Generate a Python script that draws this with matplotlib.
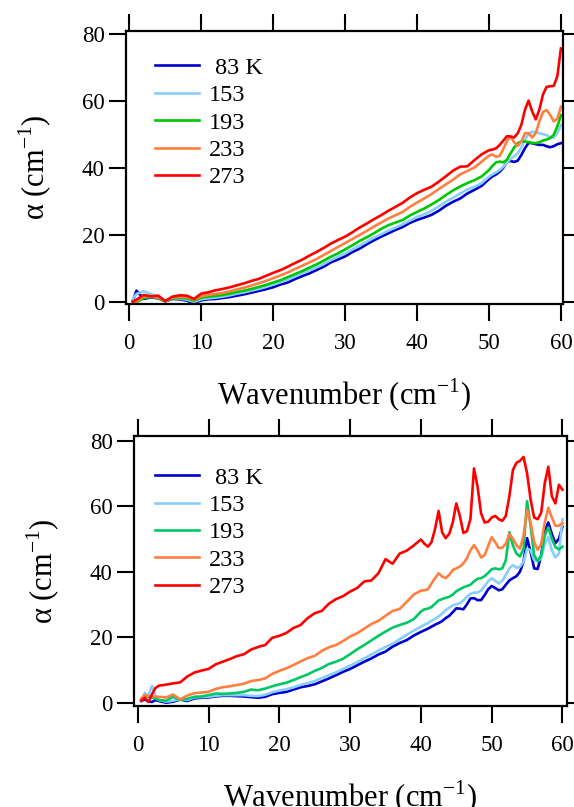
import matplotlib
matplotlib.use('Agg')
import matplotlib.pyplot as plt

plt.rcParams['font.family'] = ['Liberation Serif', 'DejaVu Serif']
plt.rcParams['mathtext.fontset'] = 'custom'
plt.rcParams['mathtext.rm'] = 'Liberation Serif'

labels = [' 83 K', '153', '193', '233', '273']

# top panel
x_top = [0.5, 1, 2, 3, 4, 5, 6, 7, 8, 9, 10, 11, 12, 13, 14, 15, 16, 17, 18, 19, 20,
         21, 22, 23, 24, 25, 26, 27, 28, 29, 30, 31, 32, 33, 34, 35, 36, 37, 38, 39, 40,
         41, 42, 43, 44, 45, 46, 47, 48, 49, 50, 50.5, 51, 51.5, 52, 52.5, 53, 53.5,
         54, 54.5, 55, 55.5, 56, 56.5, 57, 57.5, 58, 58.5, 59, 59.5, 60]
top_83 = [0.5, 3.5, 1.0, 1.5, 1.2, 0.3, 1.0, 0.9, 0.5, -0.3, 0.6, 0.9, 1.0, 1.3, 1.6, 2.0,
          2.4, 2.9, 3.4, 3.9, 4.5, 5.3, 5.9, 6.9, 7.8, 8.6, 9.6, 10.6, 11.9, 12.8, 13.7,
          15.0, 16.0, 17.3, 18.5, 19.6, 20.6, 21.6, 22.5, 23.7, 24.6, 25.3, 26.1, 27.3,
          28.8, 30.0, 31.0, 32.5, 33.6, 34.8, 36.8, 37.6, 38.2, 39.0, 40.2, 42.0, 42.2,
          41.9, 42.3, 44.0, 46.0, 47.6, 47.5, 47.2, 47.0, 47.0, 46.6, 46.3, 46.6, 47.2, 47.5]
top_153 = [1.0, 2.5, 3.3, 2.5, 1.5, 0.5, 1.2, 1.1, 0.8, 0.1, 0.9, 1.2, 1.4, 1.7, 2.1, 2.6,
           3.0, 3.5, 4.0, 4.6, 5.3, 6.0, 6.8, 7.7, 8.6, 9.5, 10.4, 11.4, 12.6, 13.6, 14.6,
           15.8, 16.9, 18.1, 19.3, 20.3, 21.4, 22.3, 23.3, 24.4, 25.5, 26.3, 27.3, 28.6,
           30.0, 31.2, 32.5, 33.7, 34.5, 35.6, 37.5, 38.2, 38.8, 39.5, 40.5, 41.8, 42.8,
           43.6, 44.5, 46.3, 48.5, 50.3, 50.9, 50.8, 50.5, 50.2, 49.9, 49.3, 49.1, 50.5, 52.9]
top_193 = [0.2, 0.0, 1.3, 1.6, 1.3, 0.3, 1.2, 1.3, 1.2, 0.5, 1.4, 1.7, 1.9, 2.2, 2.6, 3.1,
           3.5, 4.0, 4.6, 5.2, 5.9, 6.6, 7.5, 8.4, 9.3, 10.3, 11.3, 12.4, 13.6, 14.6, 15.8,
           17.0, 18.3, 19.4, 20.6, 21.9, 23.0, 23.8, 24.6, 25.9, 27.0, 28.0, 29.2, 30.5,
           32.0, 33.4, 34.6, 35.6, 36.5, 37.6, 39.5, 40.8, 41.8, 42.0, 41.8, 42.6, 44.5,
           46.2, 47.5, 48.0, 48.0, 47.8, 47.6, 47.5, 47.8, 48.3, 48.6, 49.0, 50.0, 52.5, 55.8]
top_233 = [0.1, 0.3, 1.8, 1.8, 1.5, 0.3, 1.4, 1.6, 1.6, 0.8, 1.8, 2.2, 2.5, 2.8, 3.3, 3.9,
           4.4, 5.0, 5.7, 6.4, 7.2, 8.0, 8.9, 9.9, 10.9, 11.9, 12.9, 14.1, 15.3, 16.5, 17.7,
           18.9, 20.1, 21.3, 22.6, 23.8, 25.0, 26.0, 27.0, 28.5, 29.8, 31.0, 32.3, 33.8,
           35.2, 36.6, 38.2, 39.2, 40.3, 42.0, 43.8, 44.1, 43.4, 43.8, 45.8, 48.2, 49.4,
           47.8, 46.7, 48.0, 50.5, 50.5, 49.2, 50.5, 54.0, 56.8, 57.4, 56.0, 54.0, 54.8, 58.4]
top_273 = [0.2, 0.8, 2.2, 1.8, 2.0, 0.4, 1.7, 2.1, 2.0, 1.0, 2.6, 3.0, 3.6, 4.0, 4.5, 5.1,
           5.7, 6.4, 7.0, 7.9, 8.8, 9.6, 10.6, 11.7, 12.7, 13.9, 15.0, 16.2, 17.5, 18.6, 19.6,
           20.9, 22.3, 23.5, 24.8, 26.0, 27.3, 28.5, 29.7, 31.3, 32.6, 33.6, 34.5, 36.0,
           37.6, 39.3, 40.5, 40.6, 42.5, 44.2, 45.4, 45.6, 46.0, 47.0, 48.3, 49.6, 49.5,
           49.2, 50.5, 53.0, 57.5, 60.2, 57.0, 54.6, 57.5, 62.0, 64.3, 64.5, 64.6, 67.5, 75.8]

# bottom panel
x_bot = [0.5, 1, 1.5, 2, 2.5, 3, 4, 5, 6, 7, 8, 9, 10, 11, 12, 13, 14, 15, 16, 17, 18, 19,
         20, 21, 22, 23, 24, 25, 26, 27, 28, 29, 30, 31, 32, 33, 34, 35, 36, 37, 38, 39, 40,
         40.5, 41, 41.5, 42, 42.5, 43, 43.5, 44, 44.5, 45, 45.5, 46, 46.5, 47, 47.5, 48,
         48.5, 49, 49.5, 50, 50.5, 51, 51.5, 52, 52.5, 53, 53.5, 54, 54.5, 55, 55.5, 56,
         56.5, 57, 57.5, 58, 58.5, 59, 59.5, 60]
bot_83 = [0.5, 1.0, 0.4, 0.2, 0.8, 0.5, 0.0, 0.3, 1.0, 0.5, 1.3, 1.5, 1.6, 1.9, 2.1, 2.1,
          2.0, 1.9, 1.7, 1.5, 1.8, 2.6, 3.0, 3.3, 4.0, 4.7, 5.1, 5.6, 6.5, 7.4, 8.4, 9.4,
          10.3, 11.4, 12.5, 13.5, 14.7, 15.6, 17.1, 18.2, 19.1, 20.5, 21.6, 22.1, 22.6,
          23.2, 23.8, 24.3, 24.9, 25.8, 26.5, 27.6, 28.8, 28.7, 28.5, 30.0, 31.8, 31.9,
          31.3, 31.3, 32.8, 34.6, 35.6, 35.0, 34.3, 34.6, 36.0, 37.3, 38.0, 38.6, 40.0,
          43.0, 50.2, 46.0, 41.0, 40.8, 45.0, 52.5, 55.0, 51.5, 48.7, 50.0, 53.7]
bot_153 = [0.5, 3.0, 2.0, 5.2, 2.0, 0.8, 0.3, 0.6, 1.2, 0.8, 1.6, 1.7, 1.8, 2.1, 2.3, 2.3,
           2.3, 2.3, 2.1, 2.0, 2.4, 3.2, 3.7, 4.1, 4.7, 5.4, 6.0, 6.6, 7.5, 8.4, 9.2, 10.3,
           11.3, 12.4, 13.5, 14.7, 15.9, 17.0, 18.0, 19.4, 20.7, 22.0, 23.2, 23.8, 24.3,
           25.0, 25.6, 26.3, 27.2, 28.2, 29.0, 29.7, 30.0, 30.3, 31.2, 32.3, 33.2, 33.6,
           33.6, 34.2, 35.6, 37.0, 38.0, 37.2, 36.4, 37.2, 39.0, 41.0, 42.0, 41.2, 41.5,
           43.0, 47.0, 46.5, 43.5, 43.2, 44.0, 48.5, 50.5, 46.5, 44.3, 45.5, 56.0]
bot_193 = [1.0, 1.8, 1.9, 1.6, 1.2, 0.8, 0.6, 1.8, 0.8, 1.2, 1.8, 1.9, 2.3, 2.8, 2.7, 2.8,
           3.0, 3.3, 4.0, 3.8, 4.3, 5.0, 5.6, 6.1, 6.9, 7.8, 8.6, 9.7, 10.6, 11.8, 12.5,
           13.4, 14.8, 16.3, 17.6, 19.0, 20.4, 21.7, 22.9, 23.7, 24.4, 25.5, 27.8, 28.5,
           28.7, 29.2, 30.2, 31.2, 31.6, 32.0, 32.3, 33.0, 34.0, 34.6, 35.2, 35.6, 36.0,
           37.0, 37.8, 38.0, 38.6, 39.6, 40.7, 41.0, 40.7, 41.0, 43.5, 52.0, 48.0, 45.5,
           44.6, 47.0, 61.5, 54.0, 45.0, 43.2, 45.0, 51.0, 53.5, 50.0, 47.5, 46.8, 47.6]
bot_233 = [1.3, 2.3, 2.0, 1.8, 1.8, 1.8, 1.6, 2.5, 1.0, 2.2, 2.9, 3.1, 3.3, 4.2, 4.7, 5.0,
           5.4, 5.8, 6.6, 6.9, 7.4, 8.8, 9.7, 10.5, 11.5, 12.6, 13.6, 14.3, 15.8, 16.9,
           17.6, 18.8, 20.2, 21.2, 22.6, 24.0, 25.0, 26.5, 28.0, 28.6, 30.8, 33.0, 34.2,
           34.3, 34.6, 36.4, 38.0, 39.5, 38.5, 38.0, 39.0, 40.5, 41.0, 41.5, 42.5, 44.1,
           46.5, 48.1, 46.5, 44.3, 45.0, 47.8, 50.5, 49.0, 47.2, 47.3, 48.5, 51.5, 50.0,
           48.0, 47.0, 51.0, 58.8, 55.0, 49.0, 46.6, 48.5, 55.0, 59.5, 56.5, 54.0, 54.0, 54.8]
bot_273 = [0.6, 1.5, 0.2, 2.5, 4.5, 5.2, 5.5, 5.9, 6.2, 8.0, 9.2, 9.8, 10.3, 11.7, 12.5,
           13.3, 14.2, 14.8, 16.2, 17.0, 17.6, 19.8, 20.4, 21.3, 22.8, 23.7, 25.8, 27.3,
           28.0, 30.2, 31.6, 32.5, 33.9, 35.0, 37.0, 37.3, 39.5, 43.8, 42.4, 45.5, 46.4,
           48.0, 49.8, 48.5, 47.6, 49.0, 53.0, 58.5, 52.0, 50.2, 51.5, 55.0, 60.8, 57.0,
           51.8, 52.3, 56.0, 71.5, 66.0, 57.8, 55.0, 55.2, 56.5, 57.0, 56.0, 55.5, 57.0,
           63.0, 71.0, 73.2, 73.8, 75.0, 70.0, 62.0, 56.5, 56.0, 58.0, 67.0, 72.0, 63.0,
           60.8, 66.5, 65.0]

top_colors = ['#0000CC', '#87CEFA', '#00C800', '#FF7F40', '#FF0000']
bot_colors = ['#0000CC', '#87CEFA', '#00C864', '#FF7F40', '#FF0000']

fig = plt.figure(figsize=(5.74, 8.07), dpi=100)
ax1 = fig.add_axes([0.219, 0.6233, 0.762, 0.3383])
ax2 = fig.add_axes([0.2326, 0.1252, 0.7547, 0.335])

panels = [
    (ax1, x_top, [top_83, top_153, top_193, top_233, top_273], top_colors,
     (-0.5, 60.3), (-0.5, 81.0), (0.067, 0.905)),
    (ax2, x_bot, [bot_83, bot_153, bot_193, bot_233, bot_273], bot_colors,
     (-0.6, 60.6), (-1.0, 81.5), (0.0496, 0.885)),
]

for ax, xs, series, cols, xl, yl, legpos in panels:
    for ys, c, lab in zip(series, cols, labels):
        ax.plot(xs, ys, color=c, lw=1.9, label=lab)
    ax.set_xlim(*xl)
    ax.set_ylim(*yl)
    ax.set_xticks(range(0, 61, 10))
    ax.set_yticks(range(0, 81, 20))
    ax.tick_params(direction='out', length=12, width=1.5, labelsize=16.5, pad=3,
                   top=True, right=True)
    ax.tick_params(axis='x', pad=9)
    for s in ax.spines.values():
        s.set_linewidth(1.6)
    ax.set_xlabel('Wavenumber (cm$^{-1}$)', fontsize=22, labelpad=16)
    ax.set_ylabel(r'α (cm$^{-1}$)', fontsize=22, labelpad=20)
    ax.legend(loc='upper left', bbox_to_anchor=legpos, frameon=False, fontsize=17.5,
              handlelength=1.8, handletextpad=0.42, labelspacing=0.22,
              borderpad=0, borderaxespad=0)

fig.savefig('out.png', dpi=100)
